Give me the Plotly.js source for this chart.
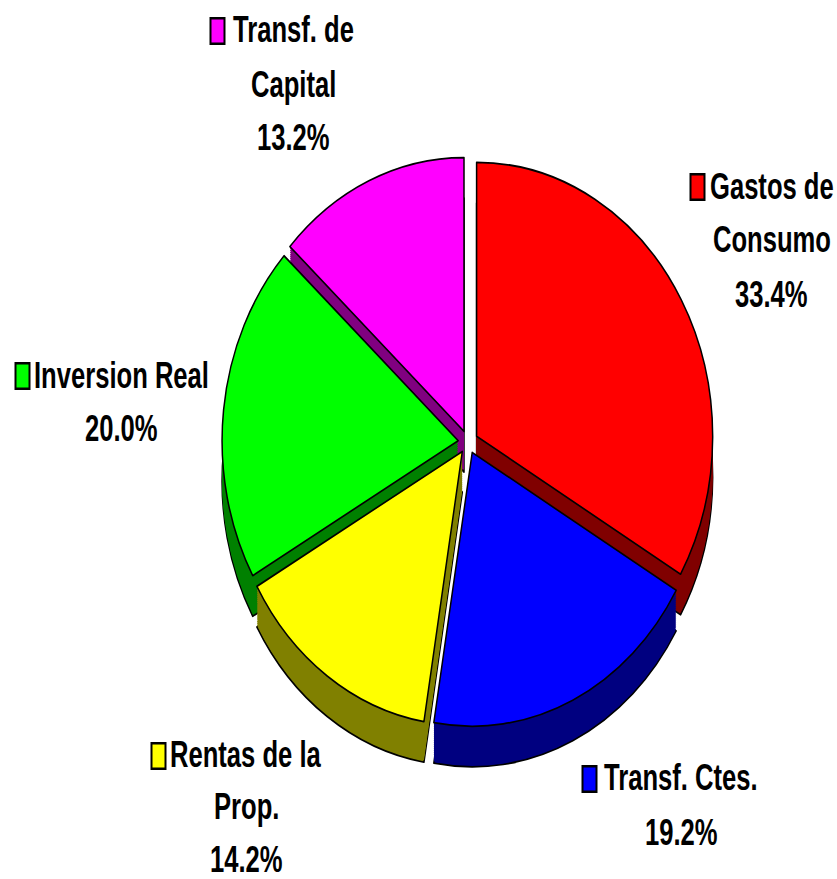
<!DOCTYPE html>
<html><head><meta charset="utf-8">
<script src="https://cdn.plot.ly/plotly-3.0.1.min.js"></script>
<style>html,body{margin:0;padding:0;background:#fff;width:837px;height:879px;overflow:hidden}
#chart{width:837px;height:758px;transform:scaleY(1.16);transform-origin:0 0}
.annotation-text{transform-box:fill-box;transform-origin:center;transform:scaleY(1.22)}</style>
</head><body><div id="chart"></div>
<script>
const categories=["Gastos de Consumo","Transf. Ctes.","Rentas de la Prop.","Inversion Real","Transf. de Capital"];
const shares=[33.4,19.2,14.2,20.0,13.2];
const topColors=["#ff0000","#0000ff","#ffff00","#00ff00","#ff00ff"];
const sideColors=["#800000","#000080","#808000","#008000","#800080"];
const labelLines=[["Gastos de","Consumo","33.4%"],["Transf. Ctes.","19.2%"],["Rentas de la","Prop.","14.2%"],["Inversion Real","20.0%"],["Transf. de","Capital","13.2%"]];
const S=1.16,W=837,H=758,cx=468,cy=442/S,half=246,depth=35,layers=20;
const pull=[0.042,0.042,0.042,0.042,0.042];
function pie(dy,colors,lw){return{type:'pie',labels:categories,values:shares,sort:false,direction:'clockwise',rotation:0,pull:pull,
 textinfo:'none',hoverinfo:'label+percent',showlegend:false,
 marker:{colors:colors,line:{color:'#000',width:lw}},
 domain:{x:[(cx-half)/W,(cx+half)/W],y:[1-(cy+dy+half)/H,1-(cy+dy-half)/H]}};}
const traces=[pie(depth,sideColors,1.5)];
for(let i=layers-1;i>0;i--)traces.push(pie(depth*i/layers,sideColors,0));
traces.push(pie(0,topColors,1.5));
const place=[{x:771.5,y:186,sw:697.5,gap:54},{x:681,y:778,sw:589.5,gap:54},{x:246,y:755,sw:158.5,gap:52},{x:121.5,y:375,sw:22.5,gap:54},{x:293,y:30,sw:217.5,gap:54}];
const annotations=[],shapes=[];
place.forEach((p,i)=>{labelLines[i].forEach((t,j)=>{
 annotations.push({xref:'paper',yref:'paper',x:p.x/W,y:1-(p.y+j*p.gap)/S/H,xanchor:'center',yanchor:'middle',text:t,showarrow:false,
  font:{family:'"Liberation Sans Narrow","Liberation Sans",Arial,sans-serif',size:25.6,color:'#000',weight:700},borderpad:0});
});
 const sy=(p.y+1)/S;
 shapes.push({type:'rect',xref:'paper',yref:'paper',x0:(p.sw-7)/W,x1:(p.sw+7)/W,y0:1-(sy+11)/H,y1:1-(sy-11)/H,fillcolor:topColors[i],line:{color:'#000',width:2}});
});
Plotly.newPlot('chart',traces,{width:W,height:H,margin:{l:0,r:0,t:0,b:0},paper_bgcolor:'#fff',annotations,shapes},{displayModeBar:false,staticPlot:true});
</script></body></html>
